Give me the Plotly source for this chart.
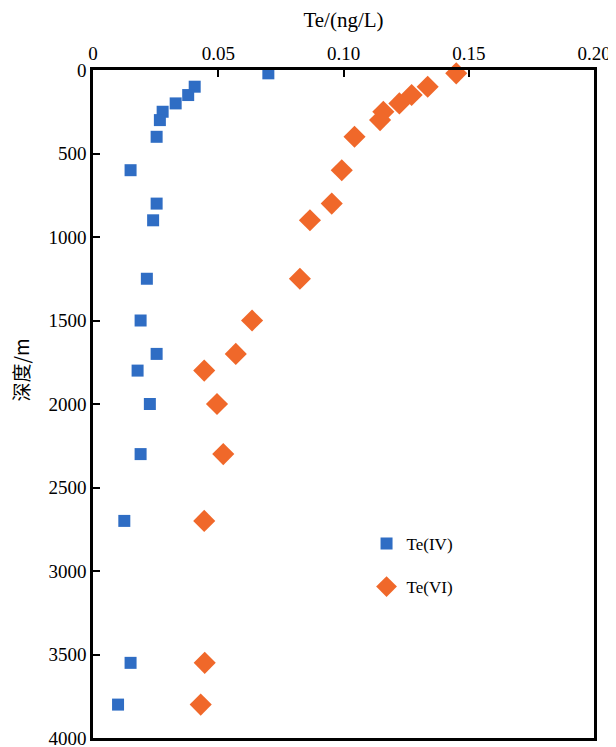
import plotly.graph_objects as go

depth = [20, 100, 150, 200, 250, 300, 400, 600, 800, 900, 1250, 1500, 1700, 1800, 2000, 2300, 2700, 3550, 3800]
te_iv = [0.070, 0.0406, 0.038, 0.033, 0.0278, 0.0267, 0.0254, 0.015, 0.0254, 0.024, 0.0215, 0.019, 0.0254,
         0.0178, 0.0227, 0.019, 0.0125, 0.015, 0.010]
te_vi = [0.145, 0.1336, 0.1272, 0.1223, 0.1159, 0.1146, 0.1044, 0.0993, 0.0953, 0.0866, 0.0826, 0.0635, 0.057,
         0.0444, 0.0495, 0.052, 0.0444, 0.0446, 0.043]

x_tickvals = [0, 0.05, 0.10, 0.15, 0.20]
x_ticktext = ["0", "0.05", "0.10", "0.15", "0.20"]
y_tickvals = [0, 500, 1000, 1500, 2000, 2500, 3000, 3500, 4000]

serif = "'Liberation Serif', 'Times New Roman', serif"

fig = go.Figure()
fig.add_trace(go.Scatter(
    x=te_iv, y=depth, mode="markers", name="Te(IV)", legendgroup="a",
    marker=dict(symbol="square", size=12, color="#2F6DC4"), cliponaxis=False))
fig.add_trace(go.Scatter(
    x=te_vi, y=depth, mode="markers", name="Te(VI)", legendgroup="b",
    marker=dict(symbol="diamond", size=17, color="#F0682A"), cliponaxis=False))

fig.update_layout(
    width=608, height=760,
    margin=dict(l=85, r=22, t=62, b=30, autoexpand=False),
    paper_bgcolor="white", plot_bgcolor="white",
    font=dict(family=serif, size=19, color="black"),
    showlegend=True,
    legend=dict(x=0.546, y=0.3175, xanchor="left", yanchor="top",
                font=dict(family=serif, size=17, color="black"),
                traceorder="grouped", tracegroupgap=18,
                bgcolor="rgba(0,0,0,0)"),
    xaxis=dict(
        side="top", range=[0, 0.2], tickvals=x_tickvals, ticktext=x_ticktext,
        showgrid=False, zeroline=False, showline=True, linecolor="black", linewidth=2.5,
        mirror=True, ticks="inside", ticklen=7, tickwidth=2, tickcolor="black",
        tickfont=dict(family=serif, size=19), automargin=False, ticklabelstandoff=0,
        title=dict(text="Te/(ng/L)", font=dict(family=serif, size=21), standoff=10),
    ),
    yaxis=dict(
        range=[4000, 0], tickvals=y_tickvals,
        showgrid=False, zeroline=False, showline=True, linecolor="black", linewidth=2.5,
        mirror=True, ticks="inside", ticklen=7, tickwidth=2, tickcolor="black",
        tickfont=dict(family=serif, size=19), automargin=False,
    ),
    annotations=[dict(
        text="深度/m", textangle=-90, showarrow=False,
        xref="paper", yref="paper", x=-0.1437, y=0.5501, xanchor="center", yanchor="middle",
        font=dict(family="'Noto Sans CJK SC', sans-serif", size=19, color="black"),
    )],
)

fig.write_html("out.html")
